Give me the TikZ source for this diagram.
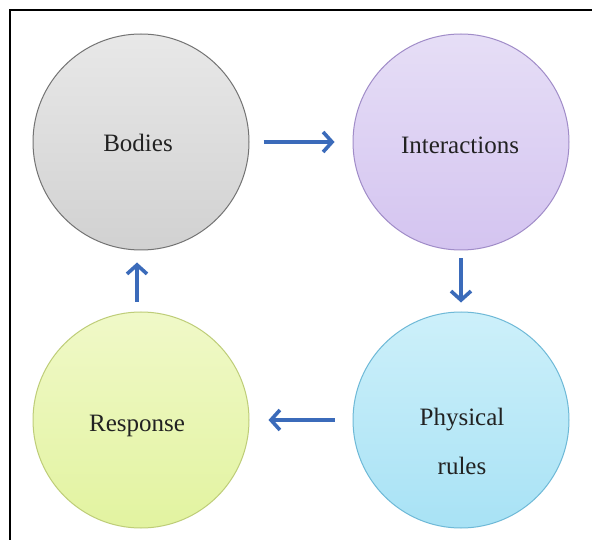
\documentclass[tikz,border=0pt]{standalone}
\usepackage{fontspec}
\setmainfont{Liberation Serif}
\usetikzlibrary{arrows.meta}
\definecolor{arrblue}{HTML}{3B6BBA}
\definecolor{txt}{HTML}{222222}
\tikzset{
  circ/.style={circle, minimum size=216pt, inner sep=0pt, line width=1pt},
  lbl/.style={text=txt, font=\fontsize{25}{30}\selectfont, align=center},
  flow/.style={draw=arrblue, line width=3.6pt, -{Straight Barb[length=9pt,width=20pt]}},
}
\begin{document}
\begin{tikzpicture}[x=1pt,y=-1pt]
\useasboundingbox (0,0) rectangle (592,540);
\fill[white] (0,0) rectangle (592,540);
\coordinate (fa) at (592,10);
\coordinate (fb) at (10,10);
\coordinate (fc) at (10,540);
\draw[line width=2pt] (fa) -- (fb) -- (fc);

\node[circ, draw=black!55, top color=black!9, bottom color=black!18] (bodies) at (141,142) {};
\node[circ, draw={rgb,255:red,160;green,140;blue,200}, top color={rgb,255:red,230;green,222;blue,246}, bottom color={rgb,255:red,212;green,196;blue,240}] (inter) at (461,142) {};
\node[circ, draw={rgb,255:red,190;green,205;blue,120}, top color={rgb,255:red,240;green,249;blue,200}, bottom color={rgb,255:red,226;green,243;blue,160}] (resp) at (141,420) {};
\node[circ, draw={rgb,255:red,110;green,185;blue,215}, top color={rgb,255:red,205;green,240;blue,250}, bottom color={rgb,255:red,168;green,226;blue,245}] (phys) at (461,420) {};

\node[lbl] (tb) at (138,143) {Bodies};
\node[lbl] (ti) at (460,145) {Interactions};
\node[lbl] (tr) at (137,426) {Response};
\node[lbl] (tp1) at (462,420) {Physical};
\node[lbl] (tp2) at (462,466) {rules};

\draw[flow, shorten <=14pt, shorten >=18pt] (bodies) -- (inter);
\draw[flow, shorten <=8pt, shorten >=9pt] (inter) -- (phys);
\draw[flow, shorten <=18pt, shorten >=19pt] (phys) -- (resp);
\draw[flow, shorten <=10pt, shorten >=12pt] ([xshift=-4pt]resp.north) -- ([xshift=-4pt]bodies.south);
\end{tikzpicture}
\end{document}
